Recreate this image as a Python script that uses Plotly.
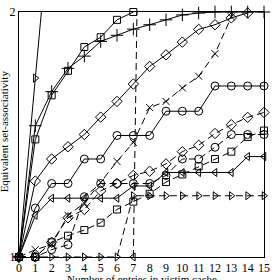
import plotly.graph_objects as go

# x positions: number of entries in victim cache
entries = list(range(16))

# Solid series
solid_tri_right = [1.0, 1.73, 2.46]
solid_square = [1.0, 1.48, 1.66, 1.76, 1.857, 1.897, 1.968, 2.0, 2.1, 2.2, 2.3, 2.4, 2.5, 2.6, 2.7, 2.8]
solid_plus = [1.0, 1.536, 1.675, 1.77, 1.82, 1.88, 1.905, 1.93, 1.948, 1.968, 1.988, 1.996, 2.0, 2.0, 2.0, 2.0]
solid_diamond = [1.0, 1.31, 1.40, 1.45, 1.50, 1.571, 1.635, 1.706, 1.778, 1.825, 1.877, 1.929, 1.948, 1.976, 1.996, 2.06]
solid_circle = [1.0, 1.20, 1.30, 1.30, 1.40, 1.40, 1.496, 1.496, 1.496, 1.595, 1.595, 1.595, 1.698, 1.698, 1.698, 1.698]
solid_tri_left = [1.0, 1.17, 1.24, 1.24, 1.24, 1.24, 1.24, 1.29, 1.29, 1.345, 1.345, 1.345, 1.345, 1.345, 1.41, 1.41]

# Dashed series
dashed_x = [1.0, 1.03, 1.05, 1.17, 1.22, 1.305, 1.39, 1.468, 1.61, 1.635, 1.69, 1.738, 1.83, 1.98, 2.2, 2.4]
dashed_diamond = [1.0, 1.0, 1.06, 1.16, 1.194, 1.27, 1.30, 1.333, 1.35, 1.38, 1.43, 1.456, 1.504, 1.54, 1.57, 1.59]
dashed_circle = [1.0, 1.0, 1.03, 1.05, 1.246, 1.30, 1.30, 1.30, 1.30, 1.333, 1.40, 1.40, 1.448, 1.50, 1.50, 1.50]
dashed_square = [1.0, 1.0, 1.06, 1.087, 1.11, 1.14, 1.194, 1.226, 1.258, 1.306, 1.337, 1.37, 1.40, 1.43, 1.49, 1.516]
dashed_tri_right = [1.0, 1.0, 1.0, 1.0, 1.0, 1.0, 1.0, 1.25, 1.25, 1.25, 1.25, 1.25, 1.25, 1.25, 1.25, 1.25]
dashed_tri_left_x = [7, 8]
dashed_tri_left = [1.0, 5.5]

y_ticks = [1, 2]
x_title = "Number of entries in victim cache"
y_title = "Equivalent set-associativity"

FONT = "Liberation Serif"
DASH = "7px,4px"

fig = go.Figure()


def add(x, y, symbol, dash="solid", size=7):
    fig.add_trace(go.Scatter(
        x=x, y=y, mode="lines+markers", cliponaxis=False,
        line=dict(color="black", width=1, dash=dash),
        marker=dict(symbol=symbol, size=size, color="black",
                    line=dict(color="black", width=1)),
        showlegend=False,
    ))


add(entries[:3], solid_tri_right, "triangle-right-open")
add(entries, solid_square, "square-open")
add(entries, solid_plus, "cross-thin-open", size=9)
add(entries, solid_diamond, "diamond-open", size=8)
add(entries, solid_circle, "circle-open", size=8)
add(entries, solid_tri_left, "triangle-left-open")

add(entries, dashed_x, "x-thin-open", dash=DASH, size=7)
add(entries, dashed_diamond, "diamond-open", dash=DASH, size=8)
add(entries, dashed_circle, "circle-open", dash=DASH, size=8)
add(entries, dashed_square, "square-open", dash=DASH)
add(entries, dashed_tri_right, "triangle-right-open", dash=DASH)
add(dashed_tri_left_x, dashed_tri_left, "triangle-left-open", dash=DASH)

fig.update_layout(
    width=275, height=280,
    margin=dict(l=19, r=5, t=5, b=23),
    paper_bgcolor="white", plot_bgcolor="white",
    font=dict(family=FONT, size=12, color="black"),
    showlegend=False,
    xaxis=dict(range=[0, 15], tickvals=entries, ticks="", showgrid=False,
               zeroline=False, showline=True, mirror=True,
               linecolor="black", linewidth=1, ticklabeloverflow="allow",
               tickfont=dict(family=FONT, size=12, color="black")),
    yaxis=dict(range=[1, 2], tickvals=y_ticks, ticks="", showgrid=False,
               zeroline=False, showline=True, mirror=True,
               linecolor="black", linewidth=1, ticklabeloverflow="allow",
               tickfont=dict(family=FONT, size=12, color="black")),
    annotations=[
        dict(text=x_title, xref="paper", yref="paper", x=0.5, y=-0.088,
             xanchor="center", yanchor="middle", showarrow=False,
             font=dict(family=FONT, size=11, color="black")),
        dict(text=y_title, xref="paper", yref="paper", x=-0.062, y=0.512,
             xanchor="center", yanchor="middle", showarrow=False, textangle=-90,
             font=dict(family=FONT, size=11, color="black")),
    ],
)

fig.write_html("out.html")
